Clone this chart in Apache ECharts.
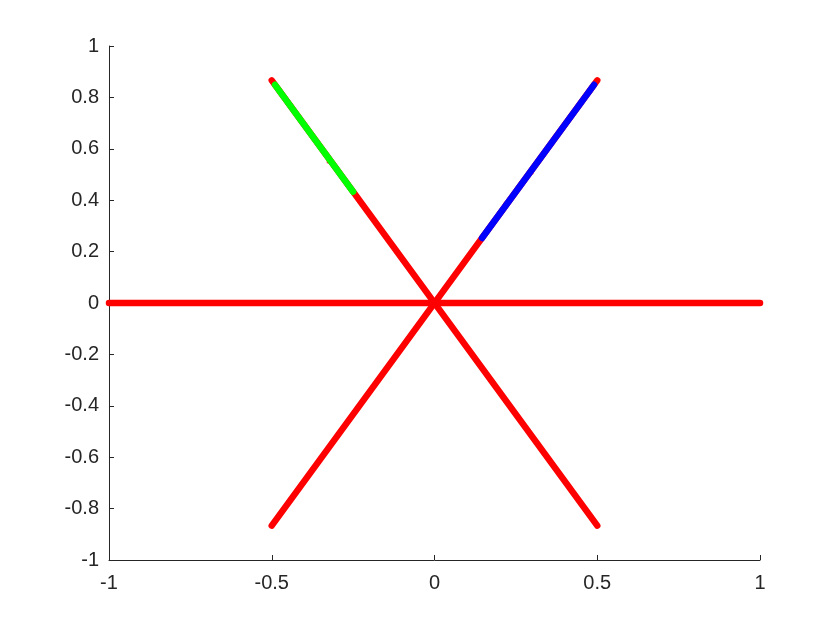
<!DOCTYPE html>
<html>
<head>
<meta charset="utf-8">
<script src="https://cdn.jsdelivr.net/npm/echarts@6/dist/echarts.min.js"></script>
<style>
  html, body { margin: 0; padding: 0; background: #fff; }
  #chart { width: 840px; height: 630px; }
</style>
</head>
<body>
<div id="chart"></div>
<script>
// segment end points
const redHorizontal = [[-1, 0], [1, 0]]
const redRising = [[-0.5, -0.866], [0.5, 0.866]]
const redFalling = [[-0.5, 0.866], [0.5, -0.866]]
const blueSegment = [[0.146, 0.253], [0.49, 0.849]]
const greenSegment = [[-0.49, 0.849], [-0.25, 0.433]]
// stray red points showing through the coloured parts
const redSpecks = [
  [0.217, 0.389], [0.195, 0.335], [0.3, 0.506], [0.339, 0.595], [0.478, 0.829],
  [-0.373, 0.642], [-0.327, 0.549], [-0.253, 0.44], [-0.496, 0.856]
]

const axisColor = '#262626'
const font = 'Liberation Sans, Arial, Helvetica, sans-serif'

const seg = (data, color) => ({
  type: 'line',
  data: data,
  symbol: 'none',
  silent: true,
  lineStyle: { color: color, width: 6.5, cap: 'round' }
})

const chart = echarts.init(document.getElementById('chart'))
chart.setOption({
  animation: false,
  grid: { left: 109, right: 80, top: 46, bottom: 70 },
  xAxis: {
    type: 'value',
    min: -1,
    max: 1,
    interval: 0.5,
    axisLine: { onZero: false, lineStyle: { color: axisColor, width: 1 } },
    axisTick: { inside: true, length: 5, lineStyle: { color: axisColor } },
    splitLine: { show: false },
    axisLabel: { color: axisColor, fontSize: 20, fontFamily: font, margin: 13 }
  },
  yAxis: {
    type: 'value',
    min: -1,
    max: 1,
    interval: 0.2,
    axisLine: { show: true, onZero: false, lineStyle: { color: axisColor, width: 1 } },
    axisTick: { show: true, inside: true, length: 5, lineStyle: { color: axisColor } },
    splitLine: { show: false },
    axisLabel: {
      color: axisColor, fontSize: 20, fontFamily: font, margin: 10,
      formatter: v => String(Math.round(v * 10) / 10)
    }
  },
  series: [
    seg(redHorizontal, '#ff0000'),
    seg(redRising, '#ff0000'),
    seg(redFalling, '#ff0000'),
    seg(blueSegment, '#0000ff'),
    seg(greenSegment, '#00ff00'),
    {
      type: 'scatter',
      data: redSpecks,
      symbolSize: 3,
      silent: true,
      itemStyle: { color: '#ff0000' }
    }
  ]
})
</script>
</body>
</html>
